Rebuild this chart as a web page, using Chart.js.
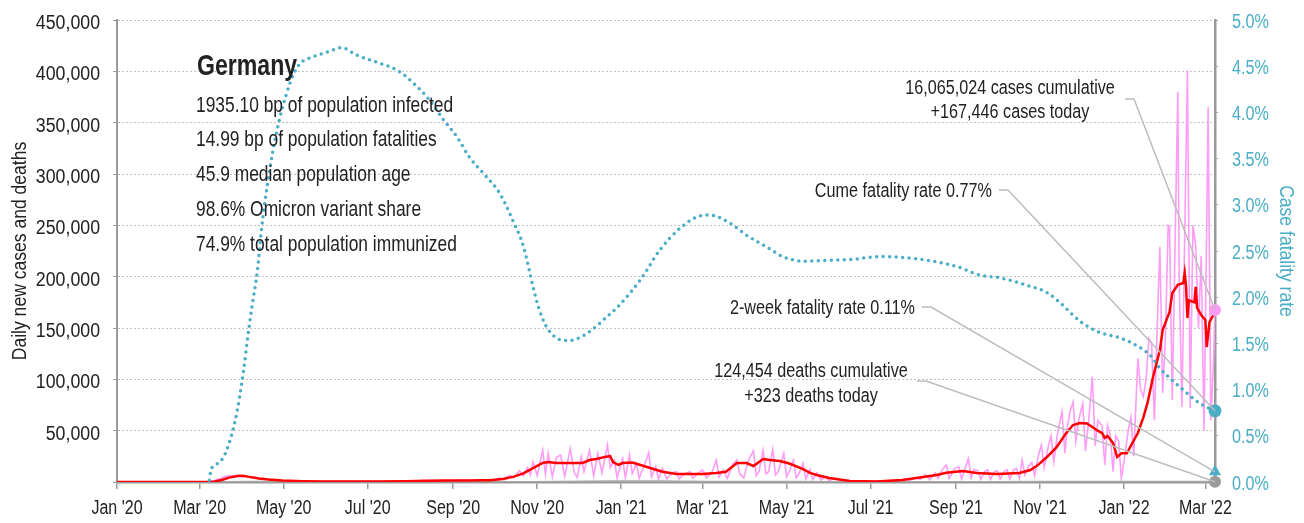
<!DOCTYPE html>
<html>
<head>
<meta charset="utf-8">
<title>Germany: daily cases, deaths and fatality rate</title>
<script src="https://cdn.jsdelivr.net/npm/chart.js@4.4.1/dist/chart.umd.min.js"></script>
<style>
  html, body { margin: 0; padding: 0; background: #fff; }
  #wrap { position: relative; width: 1304px; height: 523px; }
</style>
</head>
<body>
<div id="wrap"><canvas id="germanyChart"></canvas></div>
<script>
// x values are days since 1 Jan 2020
const lastDay = 797; // 8 Mar 2022

const tickDays = [0, 60, 121, 182, 244, 305, 366, 425, 486, 547, 609, 670, 731, 790];
const tickLabels = ["Jan '20", "Mar '20", "May '20", "Jul '20", "Sep '20", "Nov '20",
  "Jan '21", "Mar '21", "May '21", "Jul '21", "Sep '21", "Nov '21", "Jan '22", "Mar '22"];

// headline numbers
const casesCumulative = 16065024;
const casesToday = 167446;
const deathsCumulative = 124454;
const deathsToday = 323;
const cumeFatalityRate = 0.77;
const twoWeekFatalityRate = 0.11;

const countryName = 'Germany';
const countryStats = [
  '1935.10 bp of population infected',
  '14.99 bp of population fatalities',
  '45.9 median population age',
  '98.6% Omicron variant share',
  '74.9% total population immunized'
];

// daily new cases [day, cases]
const dailyCases = [
  [0, 0], [55, 0], [62, 100], [66, 300], [70, 1000], [73, 2500], [76, 4000], [79, 5500],
  [82, 6300], [85, 6000], [88, 6800], [91, 5200], [94, 6100], [97, 4000], [100, 5000],
  [103, 3000], [106, 3600], [110, 2200], [114, 1800], [118, 1300], [122, 1100], [128, 900],
  [135, 700], [145, 500], [155, 400], [165, 600], [175, 350], [185, 500], [195, 400],
  [205, 700], [215, 900], [222, 1400], [229, 1200], [236, 1500], [243, 1100], [250, 1600],
  [257, 1300], [264, 2000], [271, 1800], [274, 2500], [278, 4000], [281, 2200], [285, 6500],
  [288, 4000], [292, 11000], [295, 6000], [298, 14000], [300, 7000], [302, 19800], [305, 6000],
  [309, 31000], [311, 8000], [313, 27900], [316, 5000], [319, 24000], [322, 26300], [325, 5500],
  [329, 32800], [332, 9000], [334, 4500], [337, 24700], [339, 10000], [343, 31000], [346, 6000],
  [349, 27900], [352, 9000], [356, 36000], [358, 14000], [361, 21400], [363, 4000], [367, 23000],
  [369, 4000], [372, 26300], [374, 8000], [377, 18200], [379, 3500], [383, 17000], [386, 28600],
  [388, 5000], [391, 14900], [393, 3000], [396, 13300], [399, 3000], [403, 9000], [406, 10000],
  [408, 3000], [412, 8000], [416, 10000], [418, 3500], [422, 9000], [425, 11700], [428, 4000],
  [432, 10000], [435, 21400], [437, 5000], [440, 11700], [443, 3500], [447, 17000], [450, 21400],
  [452, 8000], [455, 4000], [458, 20000], [462, 30500], [464, 6000], [466, 10000], [469, 31000],
  [471, 8000], [473, 10000], [476, 31800], [478, 7000], [480, 10000], [484, 27900], [486, 5000],
  [488, 10000], [491, 21400], [493, 4000], [495, 8000], [498, 18200], [500, 3000], [503, 12000],
  [505, 2500], [508, 9000], [511, 2000], [514, 5000], [517, 1500], [521, 3500], [525, 1000],
  [530, 1300], [535, 800], [540, 1000], [547, 500], [552, 700], [558, 1000], [563, 600],
  [568, 1500], [572, 2500], [576, 1800], [580, 4000], [583, 2500], [587, 7000], [590, 2000],
  [594, 9000], [596, 3500], [599, 12000], [602, 16600], [604, 3500], [608, 13000], [611, 15000],
  [613, 3000], [618, 23000], [620, 4000], [622, 12000], [625, 11000], [627, 2500], [630, 10500],
  [632, 12000], [634, 2500], [637, 10000], [639, 11000], [641, 2500], [644, 10500], [646, 12000],
  [648, 3000], [651, 12000], [653, 13000], [655, 3500], [657, 21400], [659, 7000], [662, 16000],
  [664, 19000], [666, 6000], [669, 27000], [671, 36000], [673, 14000], [676, 35000], [678, 45000],
  [680, 20000], [683, 50000], [686, 68500], [688, 28000], [690, 55000], [692, 70000], [694, 78000],
  [696, 40000], [698, 60000], [701, 76500], [703, 30000], [705, 55000], [708, 102600], [710, 35000],
  [712, 60000], [715, 55000], [717, 16600], [719, 55000], [721, 46000], [723, 10000], [725, 45000],
  [727, 40000], [729, 3900], [731, 20000], [734, 50000], [736, 63000], [738, 25000], [741, 120500],
  [743, 90000], [745, 83000], [747, 100000], [749, 140000], [751, 135000], [753, 60000],
  [755, 150000], [757, 229000], [759, 87000], [761, 140000], [763, 250000], [764, 248600],
  [766, 80000], [768, 230000], [770, 380000], [771, 200000], [773, 73000], [775, 240000],
  [777, 401000], [779, 72000], [781, 250000], [783, 230000], [785, 150000], [787, 220000],
  [789, 50000], [791, 250000], [792, 365000], [794, 60000], [796, 120000], [797, casesToday]
];

// 7-day average of new cases [day, cases]
const avgCases = [
  [0, 0], [60, 0], [66, 100], [71, 500], [76, 2000], [82, 4500], [88, 5800], [91, 6000],
  [96, 5000], [103, 3500], [110, 2500], [120, 1500], [135, 800], [150, 500], [170, 400],
  [190, 500], [210, 800], [225, 1200], [240, 1400], [255, 1500], [265, 1700], [271, 1800],
  [280, 2900], [288, 5200], [295, 8400], [302, 13600], [309, 18500], [313, 19500], [319, 18500],
  [329, 18500], [338, 18500], [343, 21400], [348, 22400], [355, 24700], [358, 25300], [360, 19500],
  [364, 16600], [367, 18500], [374, 19000], [380, 16600], [387, 13600], [396, 10000], [406, 7800],
  [416, 7800], [425, 7800], [435, 8800], [442, 10000], [450, 18500], [457, 18500], [462, 15600],
  [469, 22400], [474, 21400], [481, 20500], [488, 18000], [498, 12500], [503, 8800], [508, 6800],
  [517, 3900], [532, 1000], [551, 500], [570, 1900], [585, 4900], [595, 6800], [602, 9000],
  [614, 10700], [624, 8800], [639, 7800], [655, 8800], [663, 11700], [668, 16000], [675, 24300],
  [682, 34000], [689, 47700], [694, 55500], [699, 57500], [704, 57000], [708, 53500], [711, 50600],
  [715, 47700], [717, 43000], [719, 44800], [723, 38000], [726, 24300], [729, 28000], [733, 28000],
  [737, 38000], [741, 47700], [745, 63000], [748, 77000], [752, 102000], [755, 118000],
  [757, 128600], [759, 148000], [764, 165600], [766, 184000], [770, 192000], [774, 193800],
  [775, 203600], [776, 190000], [777, 159700], [778, 177000], [782, 175000], [783, 190000],
  [784, 169500], [787, 162700], [790, 157800], [791, 131500], [793, 155800], [795, 160700],
  [797, 165600]
];

// 7-day average of deaths [day, deaths]
const avgDeaths = [
  [0, 0], [70, 0], [80, 100], [95, 250], [105, 200], [120, 100], [140, 40], [170, 10],
  [240, 5], [280, 20], [300, 80], [320, 300], [340, 500], [360, 700], [380, 850], [395, 700],
  [410, 450], [430, 250], [460, 200], [490, 200], [520, 100], [550, 30], [580, 20], [610, 50],
  [640, 70], [670, 150], [700, 350], [720, 300], [740, 150], [760, 180], [780, 200],
  [797, deathsToday]
];

// cumulative case fatality rate, % [day, rate]
const fatalityRate = [
  [67, 0.02], [68, 0.12], [70, 0.17], [73, 0.2], [77, 0.26], [80, 0.36], [83, 0.5],
  [86, 0.68], [89, 0.92], [92, 1.22], [95, 1.58], [98, 1.9], [102, 2.3], [105, 2.75],
  [109, 3.2], [113, 3.57], [118, 3.93], [123, 4.2], [128, 4.41], [133, 4.53], [142, 4.6],
  [152, 4.65], [163, 4.70], [174, 4.62], [191, 4.53], [203, 4.46], [215, 4.32], [227, 4.13],
  [237, 3.92], [247, 3.73], [256, 3.51], [266, 3.34], [278, 3.12], [287, 2.84], [295, 2.55],
  [302, 2.11], [306, 1.89], [311, 1.70], [318, 1.57], [325, 1.53], [334, 1.55], [345, 1.65],
  [355, 1.78], [365, 1.92], [380, 2.19], [394, 2.51], [409, 2.75], [423, 2.88], [430, 2.89],
  [445, 2.80], [457, 2.67], [472, 2.54], [483, 2.44], [498, 2.39], [517, 2.40], [534, 2.41],
  [554, 2.44], [578, 2.42], [592, 2.39], [610, 2.33], [626, 2.24], [641, 2.21], [660, 2.13],
  [675, 2.05], [686, 1.92], [699, 1.74], [713, 1.62], [728, 1.56], [742, 1.46], [750, 1.37],
  [757, 1.23], [766, 1.10], [776, 0.97], [786, 0.85], [797, cumeFatalityRate]
];

const FONT = '"Liberation Sans", Arial, sans-serif';
const TEAL = '#4aaec6';
const PINK = '#ff9cf6';
const GRAY = '#9a9a9a';
const INK = '#222';

const toPoints = rows => rows.map(r => ({ x: r[0], y: r[1] }));
const fmt = n => n.toLocaleString('en-US');

// condensed-looking text: regular face squeezed horizontally
function drawText(ctx, text, x, y, o) {
  ctx.save();
  ctx.translate(x, y);
  if (o.rotate) ctx.rotate(o.rotate);
  ctx.scale(o.stretch || 0.83, 1);
  ctx.font = `${o.weight || 'normal'} ${o.size}px ${FONT}`;
  ctx.fillStyle = o.color || INK;
  ctx.textAlign = o.align || 'left';
  ctx.textBaseline = 'alphabetic';
  ctx.fillText(text, 0, 0);
  ctx.restore();
}

// axis labels, titles and the notes with leader lines running to the end markers
const textPlugin = {
  id: 'textLayer',
  afterDatasetsDraw(chart) {
    const { ctx, scales } = chart;
    const endX = scales.x.getPixelForValue(lastDay);
    const leaders = [
      [1125, 99, scales.y.getPixelForValue(casesToday)],
      [999, 190, scales.y1.getPixelForValue(cumeFatalityRate)],
      [922, 307, scales.y1.getPixelForValue(twoWeekFatalityRate)],
      [917, 381, scales.y.getPixelForValue(deathsToday)]
    ];
    ctx.save();
    ctx.strokeStyle = '#bdbdbd';
    ctx.lineWidth = 1.5;
    leaders.forEach(([x0, y0, y1]) => {
      ctx.beginPath();
      ctx.moveTo(x0, y0);
      ctx.lineTo(x0 + 9, y0);
      ctx.lineTo(endX, y1);
      ctx.stroke();
    });
    ctx.restore();
  },
  afterDraw(chart) {
    const { ctx, chartArea: a, scales: { x, y, y1 } } = chart;

    tickDays.forEach((d, i) => {
      drawText(ctx, tickLabels[i], x.getPixelForValue(d), 514, { size: 20, stretch: 0.8, align: 'center' });
    });
    y.ticks.forEach(t => {
      if (t.value === 0) return;
      drawText(ctx, fmt(t.value), a.left - 17, y.getPixelForValue(t.value) + 9,
        { size: 19.5, stretch: 0.91, align: 'right' });
    });
    y1.ticks.forEach(t => {
      drawText(ctx, t.value.toFixed(1) + '%', a.right + 17, y1.getPixelForValue(t.value) + 7.5,
        { size: 19.5, stretch: 0.83, color: TEAL });
    });
    const midY = (a.top + a.bottom) / 2;
    drawText(ctx, 'Daily new cases and deaths', 26, midY,
      { size: 19.5, stretch: 0.9, align: 'center', rotate: -Math.PI / 2 });
    drawText(ctx, 'Case fatality rate', 1280, midY,
      { size: 19.5, stretch: 0.9, align: 'center', rotate: Math.PI / 2, color: TEAL });

    drawText(ctx, countryName, 197, 75, { size: 30, weight: 'bold', stretch: 0.77 });
    countryStats.forEach((line, i) => {
      drawText(ctx, line, 196, 111.5 + i * 34.8, { size: 22, stretch: 0.79 });
    });

    const note = { size: 19.5, stretch: 0.83, align: 'center' };
    drawText(ctx, `${fmt(casesCumulative)} cases cumulative`, 1010, 94, note);
    drawText(ctx, `+${fmt(casesToday)} cases today`, 1010, 118, note);
    drawText(ctx, `${fmt(deathsCumulative)} deaths cumulative`, 811, 377, note);
    drawText(ctx, `+${fmt(deathsToday)} deaths today`, 811, 402, note);
    drawText(ctx, `Cume fatality rate ${cumeFatalityRate.toFixed(2)}%`, 992, 197, { ...note, align: 'right' });
    drawText(ctx, `2-week fatality rate ${twoWeekFatalityRate.toFixed(2)}%`, 915, 314, { ...note, align: 'right' });
  }
};

Chart.defaults.font.family = FONT;

new Chart(document.getElementById('germanyChart'), {
  type: 'line',
  data: {
    datasets: [
      {
        label: 'Cases today',
        data: [{ x: lastDay, y: casesToday }],
        showLine: false, pointRadius: 6, pointBackgroundColor: PINK, pointBorderWidth: 0,
        yAxisID: 'y', clip: false
      },
      {
        label: 'Cume fatality rate',
        data: [{ x: lastDay, y: cumeFatalityRate }],
        showLine: false, pointRadius: 6.5, pointBackgroundColor: TEAL, pointBorderWidth: 0,
        yAxisID: 'y1', clip: false
      },
      {
        label: '2-week fatality rate',
        data: [{ x: lastDay, y: twoWeekFatalityRate }],
        showLine: false, pointRadius: 7, pointStyle: 'triangle', pointBackgroundColor: TEAL,
        pointBorderWidth: 0, yAxisID: 'y1', clip: false
      },
      {
        label: 'Deaths today',
        data: [{ x: lastDay, y: deathsToday }],
        showLine: false, pointRadius: 6, pointBackgroundColor: GRAY, pointBorderWidth: 0,
        yAxisID: 'y', clip: false
      },
      {
        label: 'Case fatality rate',
        data: toPoints(fatalityRate),
        yAxisID: 'y1',
        borderColor: TEAL,
        borderWidth: 3.5,
        borderDash: [0, 6.5],
        borderCapStyle: 'round',
        cubicInterpolationMode: 'monotone',
        pointRadius: 0
      },
      {
        label: 'New cases, 7-day average',
        data: toPoints(avgCases),
        yAxisID: 'y',
        borderColor: '#ff0000',
        borderWidth: 2.5,
        pointRadius: 0
      },
      {
        label: 'Deaths, 7-day average',
        data: toPoints(avgDeaths),
        yAxisID: 'y',
        borderColor: '#a8a8a8',
        borderWidth: 2,
        pointRadius: 0
      },
      {
        label: 'Daily new cases',
        data: toPoints(dailyCases),
        yAxisID: 'y',
        borderColor: PINK,
        borderWidth: 1.6,
        pointRadius: 0
      }
    ]
  },
  options: {
    responsive: true,
    maintainAspectRatio: false,
    animation: false,
    events: [],
    layout: { padding: { top: 20, left: 0, right: 0, bottom: 0 } },
    plugins: { legend: { display: false }, tooltip: { enabled: false } },
    scales: {
      x: {
        type: 'linear',
        min: 0,
        max: lastDay,
        afterBuildTicks: scale => { scale.ticks = tickDays.map(v => ({ value: v })); },
        afterFit: scale => { scale.height = 41; },
        ticks: { display: false },
        grid: { drawOnChartArea: false, drawTicks: true, tickLength: 7, tickColor: GRAY, lineWidth: 1.5 },
        border: { color: GRAY, width: 2.5 }
      },
      y: {
        position: 'left',
        min: 0,
        max: 450000,
        afterFit: scale => { scale.width = 117; },
        ticks: { display: false, stepSize: 50000 },
        grid: { color: '#c2c2c2', lineWidth: 1, tickLength: 4, tickColor: GRAY, tickBorderDash: [] },
        border: { color: GRAY, width: 2, dash: [2, 2] }
      },
      y1: {
        position: 'right',
        min: 0,
        max: 5,
        afterFit: scale => { scale.width = 89; },
        ticks: { display: false, stepSize: 0.5 },
        grid: { drawOnChartArea: false, tickLength: 3, tickColor: GRAY },
        border: { color: GRAY, width: 2.5 }
      }
    }
  },
  plugins: [textPlugin]
});
</script>
</body>
</html>
